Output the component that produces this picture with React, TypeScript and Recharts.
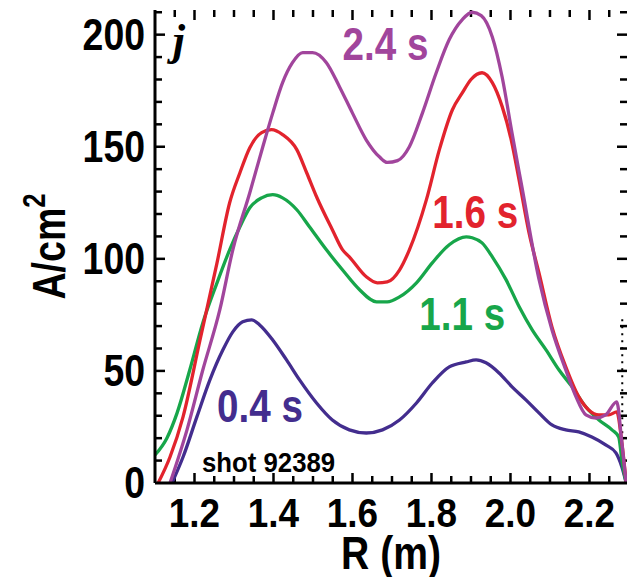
import React from 'react';
import { LineChart, Line, XAxis, YAxis, ReferenceDot, ReferenceLine } from 'recharts';

// Current density profiles j(R), shot 92389, at four times.
const R_04 = [1.143, 1.171, 1.206, 1.239, 1.272, 1.297, 1.322, 1.345, 1.365, 1.398, 1.433, 1.466, 1.509, 1.549, 1.592, 1.635, 1.676, 1.719, 1.762, 1.802, 1.845, 1.888, 1.913, 1.938, 1.971, 2.004, 2.039, 2.072, 2.105, 2.14, 2.173, 2.206, 2.241, 2.267, 2.282, 2.293];
const J_04 = [0, 11.6, 29.5, 46, 59.4, 67.4, 71.9, 72.8, 70.5, 63.8, 54.9, 46, 35.7, 28.1, 23.7, 22.3, 23.7, 28.1, 35.7, 44.6, 51.8, 54, 54.9, 53.6, 49.1, 42.9, 37.1, 31.3, 25.9, 23.7, 22.8, 20.5, 17, 13.4, 7.1, 0];

const R_11 = [1.1, 1.13, 1.156, 1.188, 1.221, 1.257, 1.289, 1.315, 1.34, 1.37, 1.398, 1.423, 1.459, 1.491, 1.534, 1.575, 1.618, 1.661, 1.688, 1.719, 1.762, 1.802, 1.845, 1.888, 1.903, 1.928, 1.954, 1.989, 2.022, 2.055, 2.09, 2.123, 2.156, 2.191, 2.224, 2.257, 2.274, 2.282, 2.293];
const J_11 = [12.5, 20, 31.3, 50.4, 71.4, 89.3, 104, 114.3, 122.8, 127.2, 128.6, 127.2, 121.9, 114.3, 104, 95, 86.2, 80.8, 80.8, 83, 89.3, 98.2, 106.3, 109.8, 109.4, 107.1, 100.9, 90.6, 78.6, 68.3, 59.4, 50.4, 42.9, 33.9, 28.1, 23.7, 20.5, 10.3, 0];

const R_16 = [1.108, 1.138, 1.171, 1.214, 1.257, 1.289, 1.315, 1.34, 1.37, 1.395, 1.423, 1.459, 1.484, 1.509, 1.549, 1.575, 1.592, 1.635, 1.663, 1.688, 1.719, 1.744, 1.787, 1.82, 1.853, 1.878, 1.9, 1.928, 1.954, 1.979, 2.002, 2.022, 2.047, 2.072, 2.105, 2.14, 2.173, 2.198, 2.224, 2.249, 2.269, 2.282, 2.293];
const J_16 = [0, 11.6, 29.5, 63.8, 98.2, 125, 138.4, 149.6, 156.3, 157.6, 155.4, 148.7, 138.4, 127.7, 113, 104, 100.9, 92, 89.3, 89.7, 95, 104, 126.3, 148.7, 166.5, 174, 180, 183, 178.6, 167.9, 153, 135, 111.6, 93.8, 69.6, 51.8, 38.4, 32.6, 30.4, 30.4, 31.7, 18, 0];

const R_24 = [1.138, 1.181, 1.221, 1.264, 1.297, 1.34, 1.373, 1.398, 1.423, 1.448, 1.474, 1.499, 1.534, 1.567, 1.6, 1.635, 1.668, 1.688, 1.714, 1.744, 1.777, 1.812, 1.845, 1.878, 1.903, 1.926, 1.954, 1.979, 2.004, 2.029, 2.072, 2.105, 2.14, 2.166, 2.191, 2.216, 2.241, 2.269, 2.282, 2.293];
const J_24 = [0, 23.7, 50.4, 77.2, 104, 129.5, 150, 165, 178.6, 187.5, 192, 192, 187.5, 176.8, 165, 153, 145.5, 143, 143.8, 150, 165, 183, 197.8, 206.7, 210, 208.5, 199, 181, 156, 132, 91, 68.3, 50.4, 38.4, 30.4, 29, 30.4, 36.2, 18, 0];

const X_TICKS = [1.15, 1.2, 1.25, 1.3, 1.35, 1.4, 1.45, 1.5, 1.55, 1.6, 1.65, 1.7, 1.75, 1.8, 1.85, 1.9, 1.95, 2.0, 2.05, 2.1, 2.15, 2.2, 2.25];
const X_LABELS = [1.2, 1.4, 1.6, 1.8, 2.0, 2.2];
const Y_TICKS = [10, 20, 30, 40, 50, 60, 70, 80, 90, 100, 110, 120, 130, 140, 150, 160, 170, 180, 190, 200, 210];
const Y_LABELS = [0, 50, 100, 150, 200];

const SERIES = [
  { name: '0.4 s', r: R_04, j: J_04, color: '#432D8E', labelR: 1.257, labelJ: 27.2 },
  { name: '1.1 s', r: R_11, j: J_11, color: '#17A64A', labelR: 1.769, labelJ: 68.3 },
  { name: '1.6 s', r: R_16, j: J_16, color: '#E2232D', labelR: 1.802, labelJ: 113.8 },
  { name: '2.4 s', r: R_24, j: J_24, color: '#A1459C', labelR: 1.575, labelJ: 188.8 },
];

const X_DOMAIN: [number, number] = [1.1, 2.295];
const Y_DOMAIN: [number, number] = [0, 211];
const CHART_W = 633;
const CHART_H = 577;
const MARGIN = { top: 10, right: 6, bottom: 0, left: 0 };
const Y_AXIS_W = 155;
const X_AXIS_H = 94;
const PLOT_W = CHART_W - MARGIN.left - MARGIN.right - Y_AXIS_W;
const PLOT_H = CHART_H - MARGIN.top - MARGIN.bottom - X_AXIS_H;
// data units per pixel, used to give tick marks a fixed pixel length
const DX = (X_DOMAIN[1] - X_DOMAIN[0]) / PLOT_W;
const DY = (Y_DOMAIN[1] - Y_DOMAIN[0]) / PLOT_H;

const SANS = '"Liberation Sans", Arial, Helvetica, sans-serif';
const SERIF = '"Liberation Serif", "Times New Roman", serif';

const toPoints = (r: number[], j: number[]) => r.map((x, i) => ({ r: x, j: j[i] }));
const isOn = (list: number[], v: number) => list.some((t) => Math.abs(t - v) < 1e-6);
const tickLen = (major: boolean) => (major ? 10 : 7);

const BottomLabel = (p: any) => {
  const v = p.payload.value;
  if (!isOn(X_LABELS, v)) return <g />;
  return (
    <text transform={`translate(${p.x},${Number(p.y) + 44}) scale(0.9,1)`} textAnchor="middle"
      fontFamily={SANS} fontWeight="bold" fontSize={41} fill="#000">{v.toFixed(1)}</text>
  );
};

const LeftLabel = (p: any) => {
  const v = p.payload.value;
  return (
    <text transform={`translate(${Number(p.x) - 10},${Number(p.y) + 15}) scale(0.85,1)`} textAnchor="end"
      fontFamily={SANS} fontWeight="bold" fontSize={44} fill="#000">{v}</text>
  );
};

const YTitle = (p: any) => {
  const vb = p.viewBox;
  const cx = vb.x + 65;
  const cy = vb.y + vb.height / 2;
  return (
    <text transform={`translate(${cx},${cy}) rotate(-90) scale(0.8,1)`} textAnchor="middle"
      fontFamily={SANS} fontWeight="bold" fontSize={47} fill="#000">
      A/cm<tspan dy={-20} fontSize={32}>2</tspan>
    </text>
  );
};

const XTitle = (p: any) => {
  const vb = p.viewBox;
  return (
    <text transform={`translate(${vb.x + vb.width / 2},${vb.y + 86}) scale(0.85,1)`} textAnchor="middle"
      fontFamily={SANS} fontWeight="bold" fontSize={46} fill="#000">R (m)</text>
  );
};

const makeLabel = (text: string, color: string, size: number, sx: number) => (p: any) => (
  <text transform={`translate(${p.cx},${p.cy}) scale(${sx},1)`} textAnchor="start"
    fontFamily={SANS} fontWeight="bold" fontSize={size} fill={color}>{text}</text>
);

const jMark = (p: any) => (
  <text x={p.cx} y={p.cy} fontFamily={SERIF} fontStyle="italic" fontWeight="bold" fontSize={44} fill="#000">j</text>
);

const tickStyle = { stroke: '#000', strokeWidth: 2.5, ifOverflow: 'visible' as const };

export default function App() {
  const xMarks = X_TICKS.flatMap((v) => {
    const len = tickLen(isOn(X_LABELS, v)) * DY;
    return [
      <ReferenceLine key={'xb' + v} {...tickStyle} segment={[{ x: v, y: Y_DOMAIN[0] }, { x: v, y: Y_DOMAIN[0] + len }]} />,
      <ReferenceLine key={'xt' + v} {...tickStyle} segment={[{ x: v, y: Y_DOMAIN[1] }, { x: v, y: Y_DOMAIN[1] - len }]} />,
    ];
  });
  const yMarks = Y_TICKS.flatMap((v) => {
    const len = tickLen(isOn(Y_LABELS, v)) * DX;
    return [
      <ReferenceLine key={'yl' + v} {...tickStyle} segment={[{ x: X_DOMAIN[0], y: v }, { x: X_DOMAIN[0] + len, y: v }]} />,
      <ReferenceLine key={'yr' + v} {...tickStyle} segment={[{ x: X_DOMAIN[1], y: v }, { x: X_DOMAIN[1] - len, y: v }]} />,
    ];
  });

  return (
    <div style={{ position: 'absolute', left: 0, top: 0, background: '#fff' }}>
      <LineChart width={CHART_W} height={CHART_H} margin={MARGIN}>
        <XAxis dataKey="r" type="number" domain={X_DOMAIN} ticks={X_LABELS} interval={0}
          height={X_AXIS_H} tickSize={0} tickMargin={0} tick={<BottomLabel />} tickLine={false}
          axisLine={{ stroke: '#000', strokeWidth: 3 }} allowDataOverflow label={<XTitle />} />
        <XAxis xAxisId="top" orientation="top" dataKey="r" type="number" domain={X_DOMAIN}
          height={0} tick={false} tickLine={false}
          axisLine={{ stroke: '#000', strokeWidth: 3 }} allowDataOverflow />
        <YAxis type="number" domain={Y_DOMAIN} ticks={Y_LABELS} interval={0} width={Y_AXIS_W}
          tickSize={0} tickMargin={0} tick={<LeftLabel />} tickLine={false}
          axisLine={{ stroke: '#000', strokeWidth: 3 }} allowDataOverflow label={<YTitle />} />
        <YAxis yAxisId="right" orientation="right" type="number" domain={Y_DOMAIN}
          width={0} tick={false} tickLine={false}
          axisLine={{ stroke: '#000', strokeWidth: 3 }} allowDataOverflow />

        {xMarks}
        {yMarks}

        <ReferenceLine segment={[{ x: 2.283, y: 16 }, { x: 2.283, y: 73 }]} stroke="#000"
          strokeWidth={2} strokeDasharray="2 5" ifOverflow="visible" />

        {SERIES.map((s) => (
          <Line key={s.name} data={toPoints(s.r, s.j)} dataKey="j" type="monotone" stroke={s.color}
            strokeWidth={3.3} strokeLinejoin="round" dot={false} activeDot={false} isAnimationActive={false} />
        ))}

        {SERIES.map((s) => (
          <ReferenceDot key={'lbl' + s.name} x={s.labelR} y={s.labelJ} r={0} ifOverflow="visible"
            shape={makeLabel(s.name, s.color, 46, 0.84)} />
        ))}
        <ReferenceDot x={1.219} y={4.9} r={0} ifOverflow="visible" shape={makeLabel('shot 92389', '#000', 28, 0.92)} />
        <ReferenceDot x={1.145} y={191} r={0} ifOverflow="visible" shape={jMark} />
      </LineChart>
    </div>
  );
}
